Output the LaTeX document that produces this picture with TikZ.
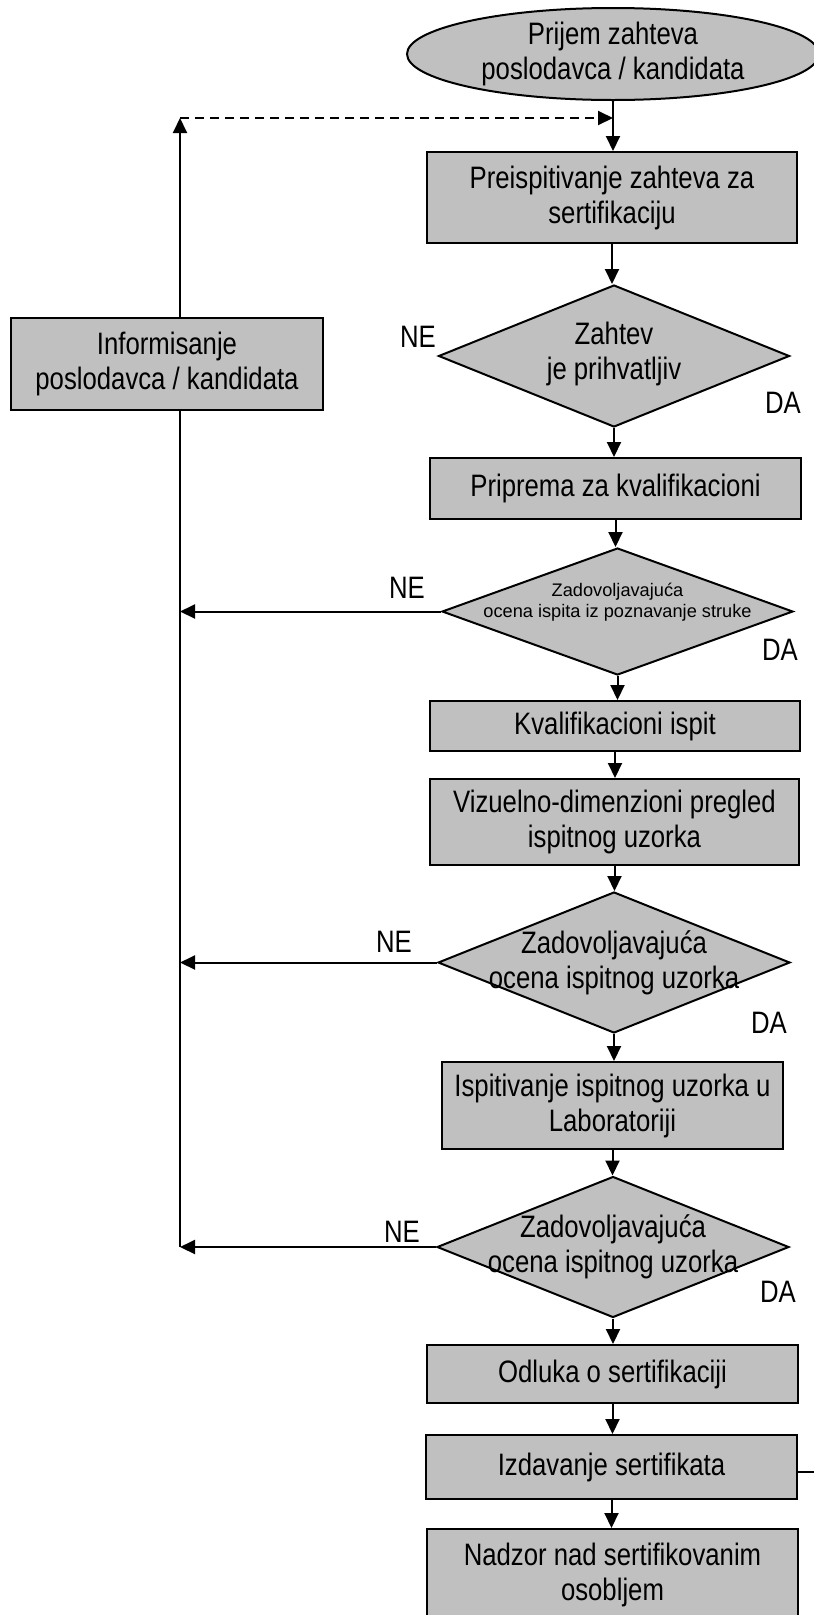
\documentclass[tikz,border=0pt]{standalone}
\usepackage{fontspec}
\setmainfont{Liberation Sans}[FakeStretch=0.83]
\newfontfamily\regsans{Liberation Sans}
\usetikzlibrary{shapes.geometric,arrows.meta}
\definecolor{boxgray}{RGB}{192,192,192}
\begin{document}
\begin{tikzpicture}[x=1pt,y=-1pt,
  every node/.style={font=\fontsize{31}{35}\selectfont, align=center},
  procbox/.style 2 args={draw, line width=2pt, fill=boxgray, inner sep=0pt,
     minimum width=#1, minimum height=#2},
  dec/.style 2 args={shape=diamond, draw, line width=2pt, fill=boxgray, inner sep=0pt,
     minimum width=#1, minimum height=#2},
  term/.style 2 args={shape=ellipse, draw, line width=2pt, fill=boxgray, inner sep=0pt,
     minimum width=#1, minimum height=#2},
  arr/.style={line width=2pt, -{Triangle[length=15pt,width=14pt]}},
  plain/.style={line width=2pt},
  dashline/.style={line width=2pt, dash pattern=on 9pt off 6pt},
  smalltxt/.style={font=\regsans\fontsize{18.2}{21}\selectfont}
]
\useasboundingbox (0,0) rectangle (814,1615);
\clip (0,0) rectangle (814,1615);

% main column
\node[term={412}{92}, label={center:Prijem zahteva\\poslodavca / kandidata}] (start) at (613,54) {};
\node[procbox={370}{91}] (b1) at (612,197.5) {Preispitivanje zahteva za\\sertifikaciju};
\node[dec={351}{142}, label={[yshift=2pt]center:Zahtev\\je prihvatljiv}] (d1) at (614,356) {};
\node[procbox={371}{61}] (b2) at (615.5,488.5) {Priprema za kvalifikacioni};
\node[dec={351}{127}, label={[smalltxt,yshift=9pt]center:Zadovoljavajuća\\ocena ispita iz poznavanje struke}] (d2) at (617.5,611.5) {};
\node[procbox={370}{50}] (b3) at (615,726) {Kvalifikacioni ispit};
\node[procbox={369}{86}] (b4) at (614.5,822) {Vizuelno-dimenzioni pregled\\ispitnog uzorka};
\node[dec={352}{141}, label={center:Zadovoljavajuća\\ocena ispitnog uzorka}] (d3) at (614,962.5) {};
\node[procbox={341}{87}] (b5) at (612.5,1105.5) {Ispitivanje ispitnog uzorka u\\Laboratoriji};
\node[dec={352}{141}, label={center:Zadovoljavajuća\\ocena ispitnog uzorka}] (d4) at (613,1247) {};
\node[procbox={371}{58}] (b6) at (612.5,1374) {Odluka o sertifikaciji};
\node[procbox={371}{64}] (b7) at (611.5,1467) {Izdavanje sertifikata};
\node[procbox={371}{111}, label={[yshift=9.5pt]center:Nadzor nad sertifikovanim\\osobljem}] (b8) at (612.5,1584.5) {};

% left box
\node[procbox={312}{92}] (info) at (167,364) {Informisanje\\poslodavca / kandidata};

% labels
\node (ne1) at (418,337) {NE};
\node (ne2) at (407,588) {NE};
\node (ne3) at (394,942) {NE};
\node (ne4) at (402,1232) {NE};
\node (da1) at (783,403) {DA};
\node (da2) at (780,650) {DA};
\node (da3) at (769,1023) {DA};
\node (da4) at (778,1292) {DA};

% main flow arrows
\draw[arr] (start.south) -- (start.south |- b1.north);
\draw[arr] (b1.south) -- (b1.south |- d1.north);
\draw[arr] (d1.south) -- (d1.south |- b2.north);
\draw[arr] (b2.south) -- (b2.south |- d2.north);
\draw[arr] (d2.south) -- (d2.south |- b3.north);
\draw[arr] (b3.south) -- (b3.south |- b4.north);
\draw[arr] (b4.south) -- (b4.south |- d3.north);
\draw[arr] (d3.south) -- (d3.south |- b5.north);
\draw[arr] (b5.south) -- (b5.south |- d4.north);
\draw[arr] (d4.south) -- (d4.south |- b6.north);
\draw[arr] (b6.south) -- (b6.south |- b7.north);
\draw[arr] (b7.south) -- (b7.south |- b8.north);

% feedback loop
\coordinate (T) at (180,118);
\draw[arr] (T |- info.north) -- (T);
\draw[dashline, -{Triangle[length=15pt,width=14pt]}] (T) -- (T -| start.south);
\draw[plain] (T |- info.south) -- (T |- d4.west);
\draw[arr] (d2.west) -- (d2.west -| T);
\draw[arr] (d3.west) -- (d3.west -| T);
\draw[arr] (d4.west) -- (d4.west -| T);

% stub on the right of Izdavanje
\coordinate (R) at (830,1472);
\draw[line width=1.5pt] ([yshift=-5pt]b7.east) -- (R);
\end{tikzpicture}
\end{document}
